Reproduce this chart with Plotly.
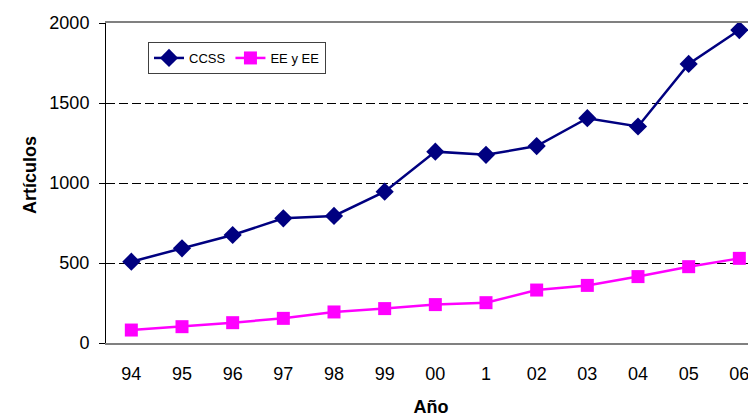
import plotly.graph_objects as go

years = ["94", "95", "96", "97", "98", "99", "00", "1", "02", "03", "04", "05", "06"]
ccss = [508, 592, 675, 779, 794, 946, 1196, 1176, 1231, 1405, 1353, 1744, 1956]
ee_y_ee = [81, 102, 127, 154, 194, 215, 240, 252, 331, 360, 415, 477, 529]

x_idx = list(range(len(years)))

# page has an 8px body margin; size the figure so it fits the 756x420 window
W, H = 748, 412
L, T, B = 98, 15, 77
plot_w = W - L
plot_h = H - T - B
step = (740 - 132) / 12

fig = go.Figure()
fig.add_trace(go.Scatter(
    x=x_idx, y=ccss, name="CCSS", mode="lines+markers",
    line=dict(color="#000080", width=2.5),
    marker=dict(symbol="diamond", size=14, color="#000080"),
))
fig.add_trace(go.Scatter(
    x=x_idx, y=ee_y_ee, name="EE y EE", mode="lines+markers",
    line=dict(color="#FF00FF", width=2.5),
    marker=dict(symbol="square", size=13, color="#FF00FF"),
))

fig.update_layout(
    width=W, height=H,
    margin=dict(l=L, r=0, t=T, b=B, pad=0),
    paper_bgcolor="white", plot_bgcolor="white",
    font=dict(family="Liberation Sans, Arial", color="black"),
    showlegend=True,
    legend=dict(
        x=(148 - 106) / plot_w, y=1 - (42 - 23) / plot_h, xanchor="left", yanchor="top",
        orientation="h", bordercolor="#404040", borderwidth=1,
        font=dict(size=13), bgcolor="white",
        tracegroupgap=0,
    ),
    xaxis=dict(
        tickmode="array", tickvals=x_idx, ticktext=years,
        range=[-0.5, -0.5 + plot_w / step],
        showgrid=False, zeroline=False,
        showline=True, linecolor="#808080", linewidth=1.5, mirror=True,
        ticks="", tickfont=dict(size=18), ticklabelstandoff=14,
        title=dict(text="<b>Año</b>", font=dict(size=18), standoff=17),
    ),
    yaxis=dict(
        range=[0, 2000], dtick=500, tickmode="linear",
        showgrid=True, gridcolor="black", griddash="9px,4px", gridwidth=1,
        zeroline=False, showline=True, linecolor="black", linewidth=1,
        ticks="outside", ticklen=6, tickcolor="black",
        tickfont=dict(size=18), ticklabelstandoff=6,
    ),
    annotations=[dict(
        text="<b>Artículos</b>", textangle=-90, font=dict(size=18),
        xref="paper", yref="paper", x=(22 - L) / plot_w, xanchor="center",
        y=1 - (175 - 23) / plot_h, yanchor="middle", showarrow=False,
    )],
)

fig.write_html("out.html")
